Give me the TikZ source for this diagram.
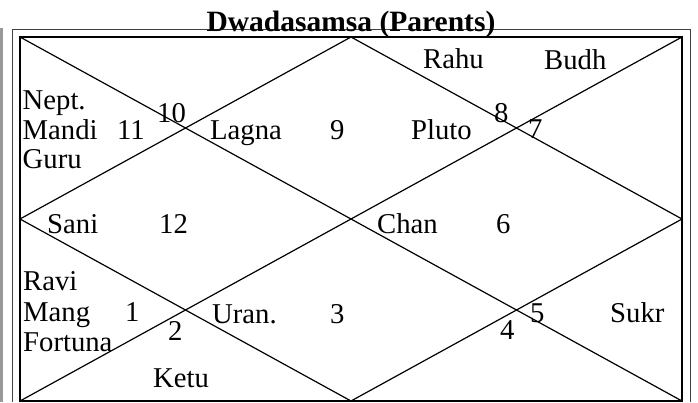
\documentclass[tikz,border=0pt]{standalone}
\usepackage{fontspec}
\setmainfont{Liberation Serif}
\tikzset{
  house/.style={anchor=base west,inner sep=0pt,font=\fontsize{28.7}{28.7}\selectfont},
  heading/.style={anchor=base,inner sep=0pt,font=\fontsize{29.5}{29.5}\selectfont\bfseries}
}
\begin{document}
\begin{tikzpicture}[x=1pt,y=-1pt]
				\useasboundingbox (0,0) rectangle (698,402);
				
				% table borders
				\draw[black!40,line width=3pt] (1.5,28) -- (1.5,402);
				\draw[black!75,line width=1pt] (12,402) -- (12,29.5) -- (690,29.5) -- (690,402);
				
				% chart corners and midpoints
				\coordinate (tl) at (20,37);
				\coordinate (tr) at (682,37);
				\coordinate (bl) at (20,401);
				\coordinate (br) at (682,401);
				\coordinate (tm) at (351,37);
				\coordinate (bm) at (351,401);
				\coordinate (ml) at (20,219);
				\coordinate (mr) at (682,219);
				
				\draw[line width=1.6pt] (tl) rectangle (br);
				\draw[line width=1.2pt] (tl) -- (br);
				\draw[line width=1.2pt] (tr) -- (bl);
				\draw[line width=1.2pt] (tm) -- (mr) -- (bm) -- (ml) -- cycle;
				
				\node[heading] (title) at (351,31) {Dwadasamsa (Parents)};
				
				% houses
				\node[house] (nept) at (22.5,109) {Nept.};
				\node[house] (mandi) at (22.5,139) {Mandi};
				\node[house] (guru) at (22.5,168) {Guru};
				\node[house] (h11) at (117,139) {11};
				\node[house] (h10) at (157,122) {10};
				\node[house] (lagna) at (210,139) {Lagna};
				\node[house] (h9) at (330,139) {9};
				
				\node[house] (rahu) at (423,68) {Rahu};
				\node[house] (budh) at (544,69) {Budh};
				\node[house] (h8) at (494,122) {8};
				\node[house] (h7) at (528,138) {7};
				\node[house] (pluto) at (411,139) {Pluto};
				
				\node[house] (sani) at (47,233) {Sani};
				\node[house] (h12) at (159,233) {12};
				\node[house] (chan) at (377,233) {Chan};
				\node[house] (h6) at (496,233) {6};
				
				\node[house] (ravi) at (23,290) {Ravi};
				\node[house] (mang) at (23,321) {Mang};
				\node[house] (fortuna) at (23,351) {Fortuna};
				\node[house] (h1) at (125,321) {1};
				\node[house] (h2) at (168,340) {2};
				\node[house] (uran) at (212,323) {Uran.};
				\node[house] (h3) at (330,323) {3};
				\node[house] (ketu) at (153,387) {Ketu};
				
				\node[house] (h5) at (530,322) {5};
				\node[house] (h4) at (500,339) {4};
				\node[house] (sukr) at (610,322) {Sukr};
			\end{tikzpicture}
\end{document}
